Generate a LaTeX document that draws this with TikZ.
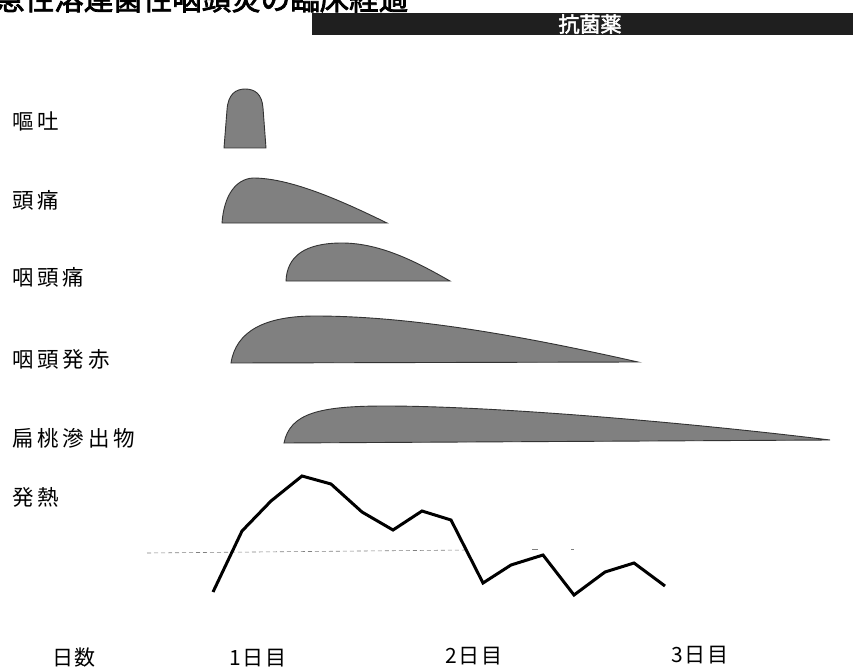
\documentclass[tikz,border=0pt]{standalone}
\usepackage{fontspec}
\newfontfamily\jp{Noto Sans CJK JP}
\newfontfamily\jpls{Noto Sans CJK JP}[LetterSpace=18]
\newfontfamily\jpds{Noto Sans CJK JP}[LetterSpace=6]
\newfontfamily\jpbold{Noto Sans CJK JP}[FakeBold=2.5]
\begin{document}
\begin{tikzpicture}[x=1pt,y=-1pt,
  lbl/.style={anchor=west,inner sep=0pt,font=\jpls\fontsize{21.5}{21.5}\selectfont},
  daylbl/.style={anchor=center,inner sep=0pt,font=\jpds\fontsize{21}{21}\selectfont},
  blob/.style={fill=black!50,draw=black!80,line width=0.9pt},
  fever/.style={line width=3pt,line join=miter,black}]
\useasboundingbox (0,0) rectangle (853,671);
\clip (0,0) rectangle (853,671);
% title (cut off at top)
\node[anchor=base west,inner sep=0pt,font=\jpbold\fontsize{29.5}{29.5}\selectfont] (title) at (-5,10) {急性溶連菌性咽頭炎の臨床経過};
% antibiotic bar
\fill[black!88] (312,13) rectangle (853,35);
\node[inner sep=0pt,text=white,font=\jpbold\fontsize{21}{21}\selectfont] (abx) at (590,24) {抗菌薬};
% labels
\node[lbl] (l1) at (12,121) {嘔吐};
\node[lbl] (l2) at (12,200) {頭痛};
\node[lbl] (l3) at (12,277) {咽頭痛};
\node[lbl] (l4) at (12,359) {咽頭発赤};
\node[lbl] (l5) at (12,438) {扁桃滲出物};
\node[lbl] (l6) at (12,497) {発熱};
% symptom shapes
\draw[blob] (224,148) -- (227,110) .. controls (228,94) and (236,89) .. (245,89) .. controls (255,89) and (262,94) .. (263,108) -- (266,148) -- cycle;
\draw[blob] (222,223) .. controls (224,195) and (236,179) .. (253,178) .. controls (290,178) and (340,200) .. (387,223) -- cycle;
\draw[blob] (286,281) .. controls (287,256) and (305,243) .. (342,243) .. controls (382,243) and (420,264) .. (450,281) -- cycle;
\draw[blob] (231,363) .. controls (236,331) and (265,316) .. (315,316) .. controls (420,316) and (540,340) .. (638,362) -- cycle;
\draw[blob] (284,443) .. controls (290,413) and (320,406) .. (385,406) .. controls (500,406) and (700,424) .. (830,440) -- cycle;
% baseline (dashed)
\draw[gray,line width=0.6pt,dash pattern=on 4pt off 3pt] (147,553) -- (468,550);
\draw[gray,line width=0.6pt] (532,549) -- (538,549) (571,549) -- (574,549);
% fever curve
\draw[fever] (213,592) -- (242,531) -- (271,501) -- (302,476) -- (331,484) -- (362,512) -- (393,530) -- (422,511) -- (451,520) -- (483,583) -- (511,565) -- (543,555) -- (574,595) -- (605,572) -- (634,563) -- (665,586);
% day axis
\node[daylbl] (d0) at (74,658) {日数};
\node[daylbl] (d1) at (258,658) {1日目};
\node[daylbl] (d2) at (474,656) {2日目};
\node[daylbl] (d3) at (700,655) {3日目};
\end{tikzpicture}
\end{document}
